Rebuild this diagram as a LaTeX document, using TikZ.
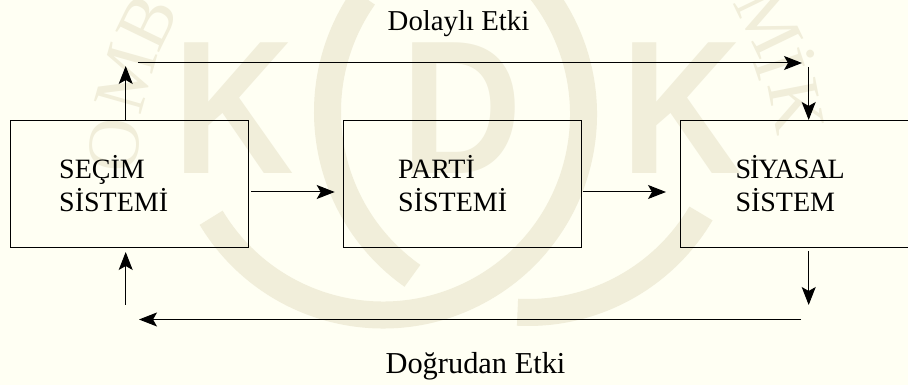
\documentclass[tikz,border=0pt]{standalone}
\usepackage{fontspec}
\setmainfont{Liberation Serif}
\newfontfamily\marksans{Liberation Sans}
\usetikzlibrary{arrows.meta}
\definecolor{paper}{HTML}{FFFFF3}
\definecolor{markc}{HTML}{F1EEDA}
\tikzset{
    sysbox/.style={draw=black,line width=1pt,minimum height=127pt,anchor=west,
        align=left,font=\fontsize{28}{33}\selectfont,inner ysep=0pt},
    etki/.style={inner sep=0pt},
    bigmark/.style={text=markc,font=\marksans\bfseries\fontsize{190}{190}\selectfont,
        inner sep=0pt,xscale=0.88},
    ringmark/.style={draw=markc,line width=27pt},
    smallmark/.style={text=markc,font=\fontsize{74}{74}\selectfont,inner sep=0pt}
}
\begin{document}
\begin{tikzpicture}[x=1pt,y=1pt,>={Stealth[length=18pt,width=14pt,inset=4pt]},line width=1pt]
        \useasboundingbox (0,0) rectangle (908,385);
        \clip (0,0) rectangle (908,385);
        \fill[paper] (0,0) rectangle (908,385);
        \node[bigmark] (markK) at (234,276.5) {K};
        \node[bigmark] (markD) at (462,276.5) {D};
        \node[bigmark] (markL) at (682,276.5) {K};
        \draw[ringmark] (383,270.5) ++(211:200.5) arc (211:420:200.5);
        \draw[ringmark] (528,273) ++(145:200.5) arc (145:234.8:200.5);
        \draw[ringmark] (528,273) ++(267:200.5) arc (267:329.6:200.5);
        \foreach \a/\ch in {175.5/O,164.2/M,154.2/B,25.8/M,18.5/İ,11/K}{
            \pgfmathsetmacro{\rot}{\a-90}
            \node[smallmark,rotate=\rot] (ring\a) at ({458+345*cos(\a)},{213+345*sin(\a)}) {\ch};
        }
        \node[sysbox,inner xsep=49pt,text width=140pt] (secim) at (9.7,201) {SEÇİM\\SİSTEMİ};
        \node[sysbox,inner xsep=55pt,text width=128pt] (parti) at (342.7,201) {PARTİ\\SİSTEMİ};
        \node[sysbox,inner xsep=55pt,text width=128pt] (siyasal) at (680,201) {{\addfontfeatures{LetterSpace=-3.5}SİYASAL}\\SİSTEM};
        \node[etki,font=\fontsize{28.8}{33}\selectfont] (dolayli) at (458.5,361.5) {Dolaylı Etki};
        \node[etki,font=\fontsize{30.4}{33}\selectfont] (dogrudan) at (475.5,19) {Doğrudan Etki};
        \coordinate (upTip) at (125.7,319);
        \coordinate (topLeft) at (138,322);
        \coordinate (topRight) at (802,322);
        \coordinate (rightTop) at (808.7,319);
        \coordinate (rightLow) at (808.7,80);
        \coordinate (lowRight) at (801,65.5);
        \coordinate (lowLeft) at (139,65.5);
        \coordinate (leftLow) at (125.7,80);
        \draw[->] (secim.north -| upTip) -- (upTip);
        \draw[->] (topLeft) -- (topRight);
        \draw[->] (rightTop |- 0,318) -- (siyasal.north -| rightTop);
        \draw[->] ([shift={(2.5,-8)}]secim.east) -- ([shift={(-8,-8)}]parti.west);
        \draw[->] ([shift={(1,-8)}]parti.east) -- ([shift={(-14,-8)}]siyasal.west);
        \draw[->] ([yshift=-3pt]siyasal.south -| rightLow) -- (rightLow);
        \draw[->] (lowRight) -- (lowLeft);
        \draw[->] (leftLow) -- ([yshift=-4pt]secim.south -| leftLow);
\end{tikzpicture}
\end{document}
